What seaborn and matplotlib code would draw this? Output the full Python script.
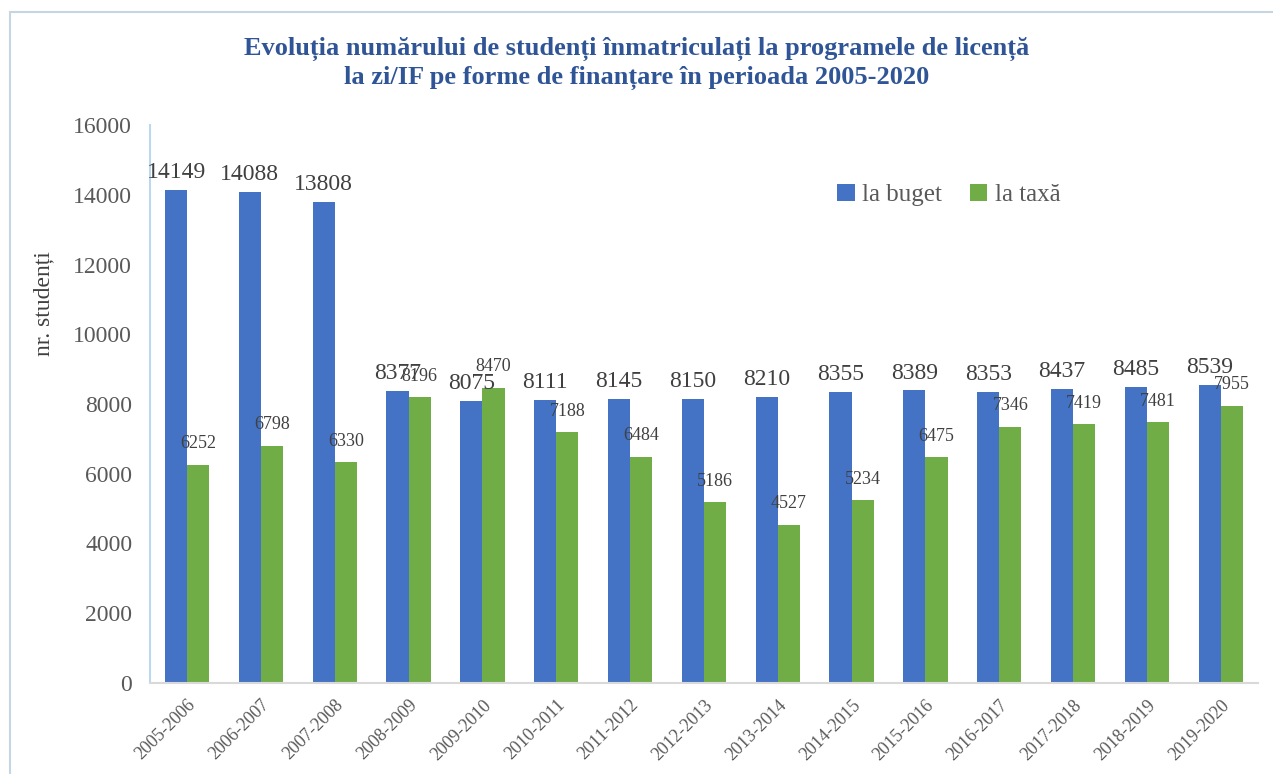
import numpy as np
import pandas as pd
import seaborn as sns
import matplotlib.pyplot as plt
from matplotlib.patches import Rectangle

years = ["2005-2006", "2006-2007", "2007-2008", "2008-2009", "2009-2010",
         "2010-2011", "2011-2012", "2012-2013", "2013-2014", "2014-2015",
         "2015-2016", "2016-2017", "2017-2018", "2018-2019", "2019-2020"]
buget = [14149, 14088, 13808, 8377, 8075, 8111, 8145, 8150, 8210, 8355,
         8389, 8353, 8437, 8485, 8539]
taxa = [6252, 6798, 6330, 8196, 8470, 7188, 6484, 5186, 4527, 5234,
        6475, 7346, 7419, 7481, 7955]
series = ["la buget", "la taxă"]
colors = ["#4472C4", "#70AD47"]

data = pd.DataFrame({"an": years * 2,
                     "studenti": buget + taxa,
                     "forma": [series[0]] * len(years) + [series[1]] * len(years)})

sns.set_style("white")
plt.rcParams['font.family'] = ['Liberation Serif', 'DejaVu Serif']

fig = plt.figure(figsize=(12.73, 7.74), dpi=100)
ax = fig.add_axes([0.118, 0.118, 0.870, 0.720])

sns.barplot(data=data, x="an", y="studenti", hue="forma",
            palette=colors, width=0.6, gap=0, saturation=1,
            edgecolor="none", ax=ax)

# value labels
for cont, size, pad in zip(ax.containers, [17, 13], [5, 9]):
    ax.bar_label(cont, labels=[f"{int(v)}" for v in cont.datavalues],
                 fontsize=size, color="#404040", padding=pad)

ax.set_ylim(0, 16000)
ax.set_yticks(np.arange(0, 16001, 2000))
ax.set_xlim(-0.5, len(years) - 0.5)
ax.tick_params(axis="y", labelsize=17, labelcolor="#595959", length=0, pad=13)
ax.tick_params(axis="x", labelsize=13, labelcolor="#595959", length=0, pad=10)
plt.setp(ax.get_xticklabels(), rotation=45, ha="right", rotation_mode="anchor")
ax.set_xlabel("")
ax.set_ylabel("nr. studenți", fontsize=17, color="#404040")
ax.yaxis.set_label_coords(-0.087, 0.68)

for s in ["top", "right"]:
    ax.spines[s].set_visible(False)
ax.spines["left"].set_color("#BDD7EE")
ax.spines["bottom"].set_color("#D9D9D9")
ax.spines["left"].set_linewidth(1.5)
ax.spines["bottom"].set_linewidth(1.5)

leg = ax.legend(loc="center left", bbox_to_anchor=(0.6, 0.875), ncol=2,
                frameon=False, fontsize=18, handlelength=0.7, handleheight=0.7,
                handletextpad=0.3, columnspacing=1.1)
for t in leg.get_texts():
    t.set_color("#595959")

fig.text(0.5, 0.918,
         "Evoluția numărului de studenți înmatriculați la programele de licență\n"
         "la zi/IF pe forme de finanțare în perioada 2005-2020",
         ha="center", va="center", fontsize=19, fontweight="bold",
         color="#2F5597", linespacing=1.3)

fig.patches.append(Rectangle((0.008, -0.01), 1.0, 0.995, transform=fig.transFigure,
                             fill=False, edgecolor="#C5D5E4", linewidth=1.5))

fig.savefig("out.png", dpi=100)
